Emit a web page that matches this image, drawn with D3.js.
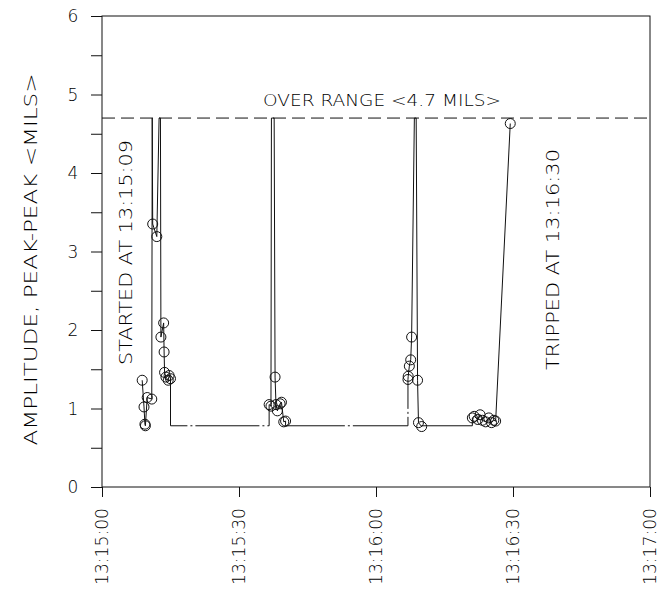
<!DOCTYPE html>
<html>
<head>
<meta charset="utf-8">
<script src="https://cdn.jsdelivr.net/npm/d3@7"></script>
<style>
    body { margin: 0; background: #fff; }
    svg text { font-family: "DejaVu Sans", sans-serif; font-weight: 200; fill: #000; }
</style>
</head>
<body>
<svg id="chart" width="665" height="590"></svg>
<script>
// time axis, seconds after 13:15:00
const xTickSec = [0, 30, 60, 90, 120];
const xTickLabels = ['13:15:00', '13:15:30', '13:16:00', '13:16:30', '13:17:00'];
const yTickMils = [0, 1, 2, 3, 4, 5, 6];
const yMinorMils = [0, 0.5, 1, 1.5, 2, 2.5, 3, 3.5, 4, 4.5, 5, 5.5, 6];

const OVER_RANGE = 4.7;   // dashed limit, samples above it are drawn on the line
const GAP_MILS = 0.78;    // level drawn between the bursts

// four bursts of samples
const run1Sec = [8.8, 9.2, 9.4, 9.5, 9.9, 10.9, 11.0, 11.1, 12.0, 12.5, 12.8, 12.9, 13.5, 13.6, 13.7, 14.0, 14.5, 14.7, 15.0];
const run1Mils = [1.36, 1.02, 0.80, 0.78, 1.14, 1.12, 4.7, 3.35, 3.19, 4.7, 4.7, 1.91, 2.09, 1.72, 1.46, 1.40, 1.36, 1.42, 1.38];
const run2Sec = [36.6, 37.0, 37.1, 37.7, 37.9, 38.1, 38.4, 39.0, 39.3, 39.8, 40.2];
const run2Mils = [1.05, 1.03, 4.7, 4.7, 1.40, 1.05, 0.97, 1.06, 1.08, 0.83, 0.84];
const run3Sec = [67.0, 67.05, 67.3, 67.6, 67.8, 68.4, 68.8, 69.1, 69.3, 70.0];
const run3Mils = [1.37, 1.41, 1.54, 1.62, 1.91, 4.7, 4.7, 1.36, 0.82, 0.77];
const run4Sec = [81.1, 81.5, 82.3, 82.8, 83.3, 84.0, 84.7, 85.3, 85.8, 86.2, 89.4];
const run4Mils = [0.88, 0.90, 0.86, 0.92, 0.85, 0.83, 0.88, 0.82, 0.85, 0.84, 4.63];

const runs = [
    d3.zip(run1Sec, run1Mils),
    d3.zip(run2Sec, run2Mils),
    d3.zip(run3Sec, run3Mils),
    d3.zip(run4Sec, run4Mils)
];

const margin = { left: 102, right: 15, top: 16, bottom: 103 };
const width = 665, height = 590;

const svg = d3.select('#chart');
const x = d3.scaleLinear().domain([0, 120]).range([margin.left, width - margin.right]);
const y = d3.scaleLinear().domain([0, 6]).range([height - margin.bottom, margin.top]);

const ink = '#111';

// frame
svg.append('rect')
    .attr('x', x(0)).attr('y', y(6))
    .attr('width', x(120) - x(0)).attr('height', y(0) - y(6))
    .attr('fill', 'none').attr('stroke', ink).attr('stroke-width', 1);

// y axis, minor ticks outward, labels on integers
const yAxis = svg.append('g')
    .attr('transform', `translate(${x(0)},0)`)
    .call(d3.axisLeft(y).tickValues(yMinorMils).tickSize(11).tickFormat(''));
yAxis.select('.domain').remove();
yAxis.selectAll('line').attr('stroke', ink);

svg.append('g').selectAll('text')
    .data(yTickMils)
    .enter()
    .append('text')
    .attr('x', 73)
    .attr('y', d => y(d) + 6)
    .attr('text-anchor', 'middle')
    .style('font-size', '17px')
    .text(d => d);

// x axis
const xAxis = svg.append('g')
    .attr('transform', `translate(0,${y(0)})`)
    .call(d3.axisBottom(x).tickValues(xTickSec).tickSize(10).tickFormat(''));
xAxis.select('.domain').remove();
xAxis.selectAll('line').attr('stroke', ink);

svg.append('g').selectAll('text')
    .data(xTickSec)
    .enter()
    .append('text')
    .attr('transform', d => `translate(${x(d) + 6},${y(0) + 21}) rotate(-90)`)
    .attr('text-anchor', 'end')
    .attr('textLength', 77)
    .attr('lengthAdjust', 'spacingAndGlyphs')
    .style('font-size', '17px')
    .text((d, i) => xTickLabels[i]);

// axis title
svg.append('text')
    .attr('transform', `translate(37,${(y(0) + y(6)) / 2 + 8}) rotate(-90)`)
    .attr('text-anchor', 'middle')
    .attr('textLength', 372)
    .attr('lengthAdjust', 'spacingAndGlyphs')
    .style('font-size', '18px')
    .text('AMPLITUDE, PEAK-PEAK <MILS>');

// over range limit
svg.append('line')
    .attr('x1', x(0)).attr('x2', x(120))
    .attr('y1', y(OVER_RANGE)).attr('y2', y(OVER_RANGE))
    .attr('stroke', ink)
    .attr('stroke-dasharray', '13,6');

svg.append('text')
    .attr('x', 263)
    .attr('y', y(OVER_RANGE) - 12)
    .attr('textLength', 238)
    .attr('lengthAdjust', 'spacingAndGlyphs')
    .style('font-size', '16px')
    .text('OVER RANGE <4.7 MILS>');

// annotations
svg.append('text')
    .attr('transform', 'translate(132,365) rotate(-90)')
    .attr('textLength', 225)
    .attr('lengthAdjust', 'spacingAndGlyphs')
    .style('font-size', '18px')
    .text('STARTED AT 13:15:09');

svg.append('text')
    .attr('transform', 'translate(559,370) rotate(-90)')
    .attr('textLength', 221)
    .attr('lengthAdjust', 'spacingAndGlyphs')
    .style('font-size', '18px')
    .text('TRIPPED AT 13:16:30');

// gap segments between bursts
const line = d3.line().x(d => x(d[0])).y(d => y(d[1]));
const gaps = [];
for (let i = 0; i < runs.length - 1; i++) {
    const a = runs[i][runs[i].length - 1];
    const b = runs[i + 1][0];
    gaps.push([a, [a[0], GAP_MILS], [b[0], GAP_MILS], b]);
}
svg.append('g').selectAll('path')
    .data(gaps)
    .enter()
    .append('path')
    .attr('d', line)
    .attr('fill', 'none')
    .attr('stroke', ink)
    .attr('stroke-width', 1)
    .attr('stroke-dasharray', '64,3,2,3');

// sample lines
svg.append('g').selectAll('path')
    .data(runs)
    .enter()
    .append('path')
    .attr('d', line)
    .attr('fill', 'none')
    .attr('stroke', ink)
    .attr('stroke-width', 1);

// sample circles (over-range samples have none)
const samples = runs.flat().filter(d => d[1] < OVER_RANGE);
svg.append('g').selectAll('circle')
    .data(samples)
    .enter()
    .append('circle')
    .attr('cx', d => x(d[0]))
    .attr('cy', d => y(d[1]))
    .attr('r', 5)
    .attr('fill', 'none')
    .attr('stroke', ink)
    .attr('stroke-width', 1);
</script>
</body>
</html>
